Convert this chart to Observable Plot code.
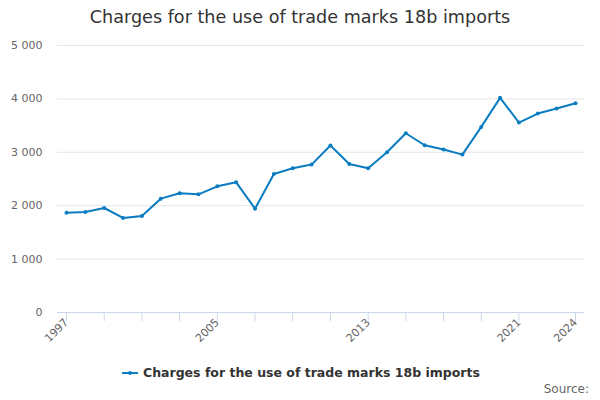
<!DOCTYPE html>
<html>
<head>
<meta charset="utf-8">
<script src="https://cdn.jsdelivr.net/npm/d3@7"></script>
<script src="https://cdn.jsdelivr.net/npm/@observablehq/plot@0.6"></script>
<style>
  body { margin: 0; background: #fff; font-family: "DejaVu Sans", sans-serif; }
  #wrap { position: relative; width: 600px; height: 400px; overflow: hidden; }
  #title { position: absolute; top: 7px; left: 0; width: 600px; text-align: center; font-size: 17.6px; color: #333; }
  #chart { position: absolute; top: 36px; left: 0; }
  #legend { position: absolute; top: 365px; left: 122px; font-size: 12.5px; font-weight: bold; color: #333; display: flex; align-items: center; }
  #source { position: absolute; top: 382px; right: 11px; font-size: 12px; color: #666; }
</style>
</head>
<body>
<div id="wrap">
  <div id="title">Charges for the use of trade marks 18b imports</div>
  <div id="chart"></div>
  <div id="legend"><svg width="16" height="10" style="margin-right:5px"><line x1="0" y1="5" x2="16" y2="5" stroke="#0a7cc1" stroke-width="2"/><circle cx="8" cy="5" r="2" fill="#0a7cc1"/></svg><span>Charges for the use of trade marks 18b imports</span></div>
  <div id="source">Source:</div>
</div>
<script>
const years = d3.range(1997, 2025);
const values = [1870, 1882, 1957, 1770, 1807, 2132, 2232, 2213, 2363, 2438, 1944, 2595, 2700, 2770, 3126, 2782, 2700, 3000, 3357, 3132, 3051, 2957, 3476, 4020, 3557, 3726, 3820, 3919];
const xTicks = [1997, 1999, 2001, 2003, 2005, 2007, 2009, 2011, 2013, 2015, 2017, 2019, 2021, 2024];
const xLabels = [1997, 2005, 2013, 2021, 2024];
const yTicks = [0, 1000, 2000, 3000, 4000, 5000];

const data = years.map((y, i) => ({year: y, value: values[i]}));
const color = "#0a7cc1";
const fmt = d => d3.format(",")(d).replace(/,/g, " ");

const chart = Plot.plot({
  width: 600,
  height: 320,
  marginTop: 9,
  marginBottom: 44,
  marginLeft: 57,
  marginRight: 16,
  style: {fontFamily: "DejaVu Sans, sans-serif", fontSize: "11px", color: "#666"},
  x: {domain: [1997, 2024], insetLeft: 9, insetRight: 9},
  y: {domain: [0, 5000]},
  marks: [
    Plot.gridY(yTicks, {stroke: "#e6e6e6", strokeOpacity: 1}),
    Plot.axisY(yTicks, {tickSize: 0, tickPadding: 15, tickFormat: fmt, fill: "#666", fontSize: 11, label: null}),
    Plot.ruleY([0], {stroke: "#ccd6eb"}),
    Plot.axisX(xTicks, {tickSize: 9, stroke: "#ccd6eb", strokeOpacity: 1, tickFormat: () => "", label: null}),
    Plot.axisX(xLabels, {tickSize: 0, tickRotate: -45, tickPadding: 8, tickFormat: d => String(d), fill: "#666", fontSize: 11, label: null}),
    Plot.line(data, {x: "year", y: "value", stroke: color, strokeWidth: 2}),
    Plot.dot(data, {x: "year", y: "value", fill: color, r: 2})
  ]
});
document.getElementById("chart").appendChild(chart);
</script>
</body>
</html>
